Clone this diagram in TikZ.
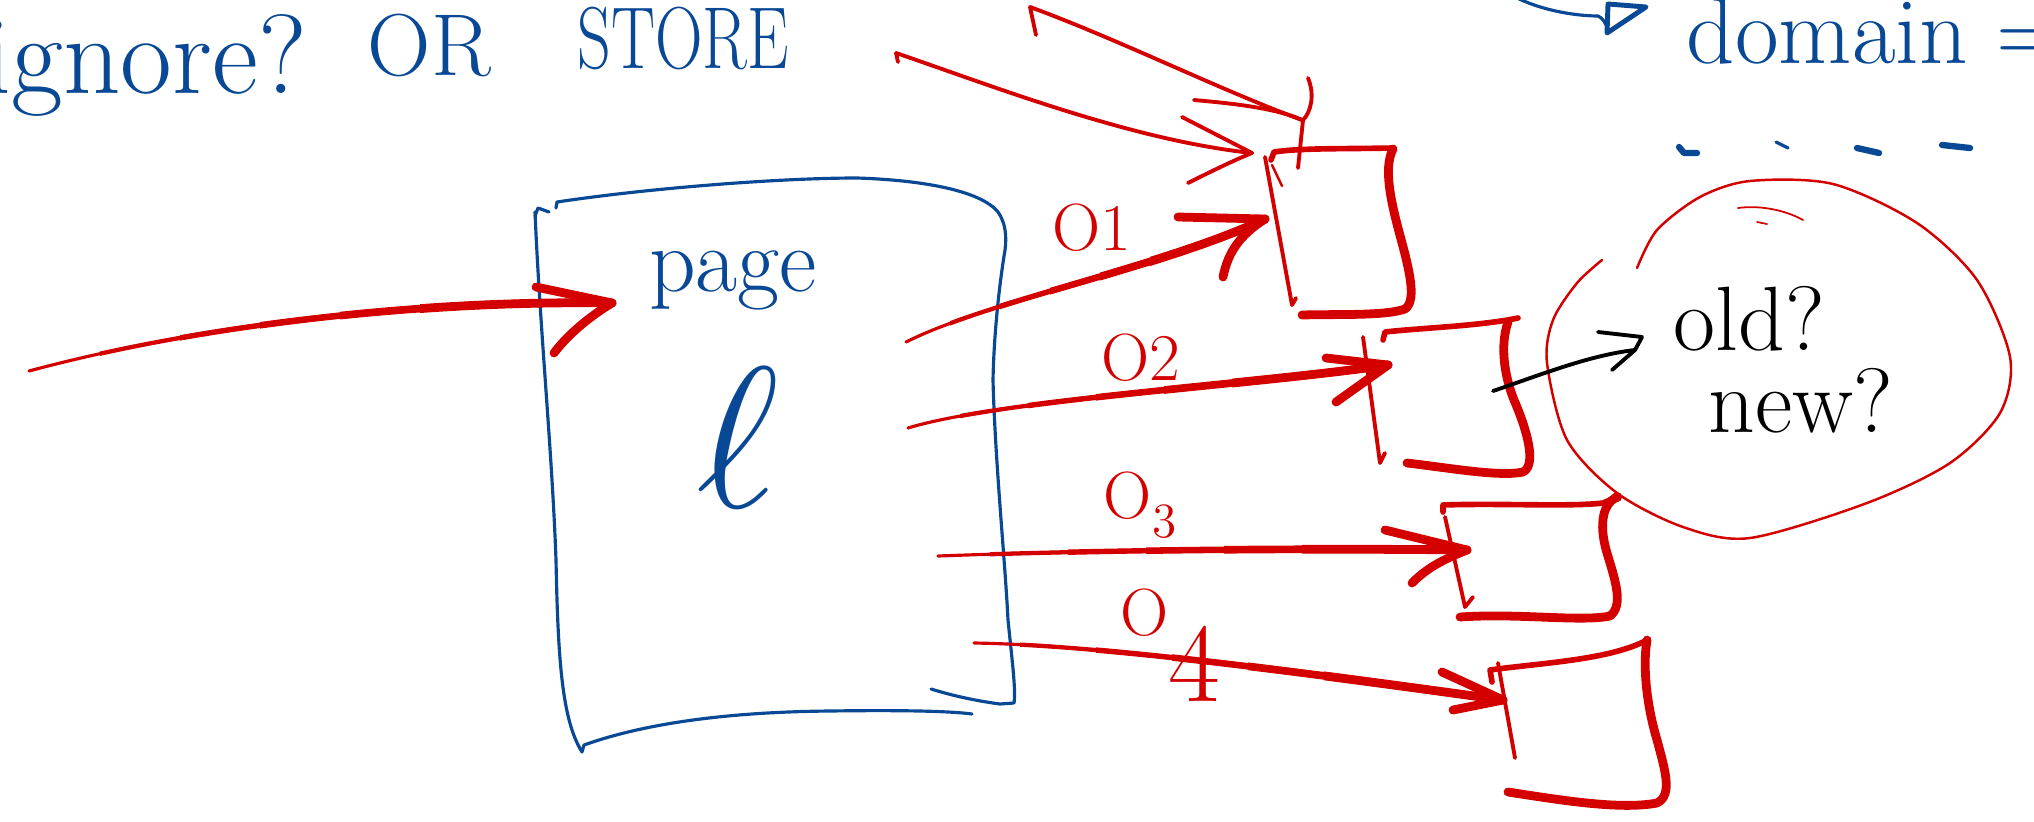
\documentclass[tikz,border=0pt]{standalone}
\usepackage{graphicx}
\definecolor{penblue}{RGB}{8,72,148}
\definecolor{penred}{RGB}{212,0,0}
\tikzset{
  bluepen/.style={draw=penblue, line width=0.9pt, line cap=round, line join=round},
  bluethick/.style={draw=penblue, line width=1.8pt, line cap=round, line join=round},
  redthick/.style={draw=penred, line width=2.5pt, line cap=round, line join=round},
  redmed/.style={draw=penred, line width=1.6pt, line cap=round, line join=round},
  redthin/.style={draw=penred, line width=1.1pt, line cap=round, line join=round},
  redhair/.style={draw=penred, line width=0.7pt, line cap=round, line join=round},
  blackpen/.style={draw=black, line width=1.1pt, line cap=round, line join=round},
  bluetext/.style={text=penblue, inner sep=0pt, font=\fontsize{25}{30}\selectfont},
  redtext/.style={text=penred, inner sep=0pt, font=\fontsize{19}{22}\selectfont},
  blacktext/.style={text=black, inner sep=0pt, font=\fontsize{26}{30}\selectfont},
}
% tapered red stroke: start, control 1, control 2, end, x where thickening starts, x where it ends
\newcommand{\taperstroke}[6]{%
  \draw[draw=penred, line width=0.9pt, line cap=round] (#1) .. controls (#2) and (#3) .. (#4);
  \foreach \i [evaluate=\i as \xs using {#5+(\i-1)*(#6-#5)/5},
               evaluate=\i as \w using {0.9+0.32*\i}] in {1,...,5} {%
    \begin{scope}
      \clip (\xs,-50) rectangle (2100,900);
      \draw[draw=penred, line width=\w pt, line cap=round] (#1) .. controls (#2) and (#3) .. (#4);
    \end{scope}
  }%
}
\begin{document}
\begin{tikzpicture}[x=0.01cm, y=-0.01cm]
\useasboundingbox (0,0) rectangle (2034,821);

% ---------- top texts ----------
\node[bluetext, anchor=base west, font=\fontsize{32}{36}\selectfont] (ignore) at (-17,93) {ignore?};
\node[bluetext, anchor=base west] (or) at (367,75) {OR};
\node[bluetext, anchor=base west] (store) at (577,68) {\scalebox{0.75}[1]{STORE}};
\node[bluetext, anchor=base west, font=\fontsize{27}{30}\selectfont] (domain) at (1686,63) {domain =};

% blue arrow towards "domain"
\coordinate (dA0) at (1515,-3);
\coordinate (dA1) at (1607,28);
\draw[bluepen] (dA0) .. controls (1545,12) and (1580,16) .. (1598,16) .. controls (1603,18) and (1606,24) .. (dA1);
\draw[bluethick, line width=1.4pt] (1608,4) -- (1646,7) -- (1607,33) -- cycle;

% dashes
\draw[bluethick] (1679,147) -- (1684,153) -- (1697,153);
\draw[bluepen] (1776,142) -- (1788,148);
\draw[bluethick] (1857,148) -- (1879,153);
\draw[bluethick] (1942,145) -- (1970,148);

% ---------- page box ----------
\draw[bluepen] (535,216) -- (538,208) -- (549,212);
\draw[bluepen] (556,208) -- (557,202) .. controls (650,188) and (780,178) .. (857,178)
  .. controls (920,180) and (980,190) .. (998,212) .. controls (1005,222) and (1007,235) .. (1005,250)
  .. controls (1000,280) and (994,330) .. (993,380) .. controls (995,460) and (1005,560) .. (1008,620)
  .. controls (1012,660) and (1016,690) .. (1014,703) -- (1000,704)
  .. controls (985,702) and (960,698) .. (931,689);
\draw[bluepen] (535,212) .. controls (540,330) and (552,450) .. (556,560)
  .. controls (558,660) and (562,720) .. (582,752) -- (584,745)
  .. controls (640,725) and (720,712) .. (830,711) .. controls (900,710) and (950,711) .. (972,714);
\node[bluetext, anchor=base, font=\fontsize{26}{30}\selectfont] (pagetxt) at (733,291) {page};
\node[bluetext, anchor=base] (elltxt) at (738,507) {\scalebox{2.3}{$\ell$}};

% ---------- input arrow ----------
\coordinate (in0) at (29,371);
\coordinate (inT) at (612,303);
\taperstroke{in0}{200,325}{420,300}{inT}{100}{500}
\draw[redthick] (inT) -- ++(-76,-16);
\draw[redthick] (inT) .. controls ++(-20,12) and ++(15,-20) .. ++(-58,50);

% ---------- boxes ----------
% box 1
\draw[redmed] (1271,160) -- (1274,152) .. controls (1300,148) and (1340,149) .. (1393,148);
\draw[redthick] (1393,149) .. controls (1385,165) and (1388,190) .. (1398,228)
  .. controls (1408,265) and (1418,300) .. (1405,309) .. controls (1385,316) and (1340,314) .. (1302,315);
\draw[redthin] (1265,157) -- (1292,305) -- (1296,298);
\draw[redhair] (1272,165) -- (1282,186);
% box 2
\draw[redmed] (1383,340) -- (1385,332) .. controls (1420,328) and (1480,326) .. (1518,318);
\draw[redthick] (1508,322) .. controls (1500,345) and (1504,375) .. (1514,400)
  .. controls (1527,430) and (1537,465) .. (1523,472) .. controls (1500,477) and (1450,468) .. (1407,463);
\draw[redthin] (1363,337) -- (1380,463) -- (1385,453);
% box 3
\draw[redmed] (1443,512) -- (1443,505) .. controls (1500,503) and (1570,507) .. (1603,503) -- (1617,497);
\fill[penred] (1617,497) circle (5);
\draw[redthick] (1617,497) .. controls (1600,505) and (1600,530) .. (1607,553)
  .. controls (1615,580) and (1624,605) .. (1610,616) .. controls (1580,622) and (1520,613) .. (1460,617);
\draw[redthin] (1445,517) -- (1465,607) -- (1473,597);
% box 4
\draw[redmed] (1492,682) -- (1490,670) .. controls (1540,663) and (1610,660) .. (1647,640);
\draw[redthick] (1647,640) .. controls (1642,670) and (1648,710) .. (1657,740)
  .. controls (1665,770) and (1673,795) .. (1657,803) .. controls (1620,810) and (1560,800) .. (1508,792);
\draw[redthin] (1498,663) -- (1515,758);

% ---------- arrows to boxes ----------
\coordinate (s1) at (906,342);  \coordinate (t1) at (1265,219);
\coordinate (s2) at (908,428);  \coordinate (t2) at (1388,365);
\coordinate (s3) at (938,556);  \coordinate (t3) at (1467,550);
\coordinate (s4) at (974,643);  \coordinate (t4) at (1503,700);
\taperstroke{s1}{990,300}{1160,268}{t1}{950}{1200}
\draw[redthick] (t1) -- ++(-87,-2);
\draw[redthick] (t1) .. controls ++(-25,16) and ++(5,-25) .. ++(-42,58);
\taperstroke{s2}{1000,400}{1250,385}{t2}{960}{1300}
\draw[redthick] (t2) -- ++(-62,-7);
\draw[redthick] (t2) -- ++(-52,37);
\taperstroke{s3}{1100,550}{1300,548}{t3}{990}{1380}
\draw[redthick] (t3) -- ++(-82,-20);
\draw[redthick] (t3) .. controls ++(-25,10) and ++(15,-15) .. ++(-55,33);
\taperstroke{s4}{1100,645}{1300,672}{t4}{1020}{1400}
\draw[redthick] (t4) -- ++(-61,-28);
\draw[redthick] (t4) -- ++(-50,10);

\node[redtext, anchor=base] (o1) at (1092,250) {O1};
\node[redtext, anchor=base] (o2) at (1141,380) {O2};
\node[redtext, anchor=base] (o3) at (1140,518) {O\raisebox{-5.5pt}{\fontsize{14}{14}\selectfont 3}};
\node[redtext, anchor=base] (o4) at (1170,635) {O\raisebox{-19pt}{\fontsize{32}{32}\selectfont 4}};

% ---------- arrows from the top to box 1 ----------
\coordinate (A0) at (1030,7);   \coordinate (AT) at (1302,120);
\coordinate (B0) at (896,53);   \coordinate (BT) at (1252,153);
\draw[redthin] (1036,35) -- (A0) .. controls (1120,40) and (1220,90) .. (AT);
\draw[redthin] (AT) .. controls ++(-30,-14) and ++(20,2) .. ++(-108,-20);
\draw[redthin] (1308,78) .. controls (1315,95) and (1311,112) .. (1303,120) -- (1298,168);
\draw[redthin] (898,62) -- (B0) .. controls (990,85) and (1130,140) .. (BT);
\draw[redthin] (BT) -- ++(-70,-36);
\draw[redthin] (BT) .. controls ++(-20,8) and ++(20,-10) .. ++(-64,30);

% ---------- circle ----------
\draw[redhair] plot[smooth] coordinates {(1637,268) (1657,230) (1700,197) (1750,181) (1833,184)
  (1917,223) (1977,280) (2010,357) (2000,413) (1950,463) (1867,503) (1750,538) (1683,527)
  (1617,493) (1567,440) (1547,363) (1553,320) (1577,283) (1602,260)};
\draw[redhair, line width=0.5pt] (1738,208) .. controls (1760,205) and (1785,210) .. (1803,220);
\draw[redhair, line width=0.5pt] (1757,222) -- (1767,224);

% ---------- black arrow and question ----------
\coordinate (k0) at (1493,391);
\coordinate (kT) at (1635,350);
\draw[blackpen] (k0) .. controls (1540,375) and (1590,355) .. (kT);
\draw[blackpen] (1598,332) -- (1642,337) -- (kT) -- (1612,370);
\node[blacktext, anchor=base west] (old) at (1673,350) {old?};
\node[blacktext, anchor=base west] (new) at (1708,432) {new?};
\end{tikzpicture}
\end{document}
